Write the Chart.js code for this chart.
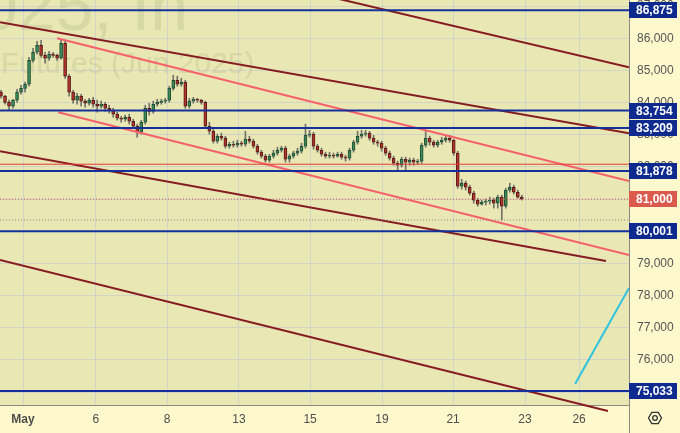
<!DOCTYPE html>
<html>
<head>
<meta charset="utf-8">
<script src="https://cdn.jsdelivr.net/npm/chart.js@4.4.1/dist/chart.umd.min.js"></script>
<style>
    html, body { margin: 0; padding: 0; background: #fdf9cc; }
    #wrap { width: 680px; height: 433px; }
</style>
</head>
<body>
<div id="wrap"><canvas id="priceChart" width="680" height="433"></canvas></div>
<script>
// x axis labels and where they sit (in bar index units)
const dayLabels = ['May', '6', '8', '13', '15', '19', '21', '23', '26'];
const dayTicks = [5.5, 23.7, 41.45, 59.4, 77.15, 95.1, 112.85, 130.8, 144.3];
const priceTicks = [75000, 76000, 77000, 78000, 79000, 80000, 81000, 82000, 83000, 84000, 85000, 86000, 87000];

// [open, high, low, close]
const candles = [
    [84325, 84385, 84135, 84200], [84200, 84230, 83950, 84010], [84010, 84075, 83765, 83890], [83890, 84105, 83825, 84075],
    [84075, 84415, 84010, 84325], [84325, 84540, 84260, 84445], [84445, 84635, 84325, 84570], [84570, 85410, 84510, 85315],
    [85315, 85690, 85255, 85565], [85565, 85905, 85505, 85780], [85780, 85940, 85410, 85470], [85470, 85565, 85225, 85380],
    [85380, 85595, 85315, 85505], [85505, 85565, 85410, 85470], [85470, 85505, 85315, 85380], [85380, 85940, 85350, 85845],
    [85845, 85905, 84755, 84820], [84820, 84880, 84200, 84325], [84325, 84385, 83980, 84075], [84075, 84290, 83950, 84200],
    [84200, 84260, 83890, 84045], [84045, 84105, 83855, 83980], [83980, 84135, 83920, 84075], [84075, 84165, 83855, 83950],
    [83950, 84075, 83700, 83890], [83890, 84045, 83825, 83950], [83950, 84010, 83730, 83825], [83825, 83920, 83670, 83765],
    [83765, 83825, 83545, 83640], [83640, 83700, 83455, 83515], [83515, 83575, 83390, 83485], [83485, 83610, 83420, 83545],
    [83545, 83640, 83330, 83420], [83420, 83485, 83205, 83265], [83265, 83330, 82925, 83080], [83080, 83455, 83020, 83390],
    [83390, 83920, 83330, 83825], [83825, 83980, 83610, 83730], [83730, 84045, 83670, 83950], [83950, 84105, 83890, 84010],
    [84010, 84105, 83950, 84045], [84045, 84135, 83980, 84075], [84075, 84510, 84010, 84445], [84445, 84850, 84385, 84695],
    [84695, 84820, 84510, 84570], [84570, 84755, 84510, 84635], [84635, 84695, 83825, 83890], [83890, 84135, 83825, 84045],
    [84045, 84165, 83980, 84105], [84105, 84135, 84010, 84075], [84075, 84105, 83950, 84010], [84010, 84045, 83205, 83265],
    [83265, 83390, 83020, 83110], [83110, 83175, 82740, 82800], [82800, 83020, 82740, 82955], [82955, 83050, 82830, 82895],
    [82895, 82955, 82585, 82645], [82645, 82770, 82585, 82705], [82705, 82800, 82615, 82675], [82675, 82830, 82615, 82740],
    [82740, 82800, 82645, 82705], [82705, 83110, 82645, 82865], [82865, 82955, 82740, 82800], [82800, 82865, 82585, 82645],
    [82645, 82705, 82395, 82460], [82460, 82520, 82275, 82335], [82335, 82395, 82150, 82210], [82210, 82395, 82150, 82335],
    [82335, 82520, 82275, 82430], [82430, 82615, 82365, 82520], [82520, 82645, 82460, 82585], [82585, 82645, 82150, 82240],
    [82240, 82395, 82150, 82335], [82335, 82490, 82275, 82430], [82430, 82585, 82365, 82490], [82490, 82740, 82430, 82645],
    [82645, 83330, 82585, 82985], [82985, 83140, 82925, 83020], [83020, 83080, 82550, 82645], [82645, 82705, 82460, 82520],
    [82520, 82585, 82335, 82395], [82395, 82460, 82275, 82335], [82335, 82460, 82275, 82365], [82365, 82430, 82275, 82335],
    [82335, 82460, 82305, 82395], [82395, 82460, 82240, 82305], [82305, 82365, 82180, 82275], [82275, 82585, 82210, 82520],
    [82520, 82830, 82460, 82770], [82770, 83110, 82705, 82955], [82955, 83140, 82895, 83020], [83020, 83140, 82955, 83050],
    [83050, 83110, 82830, 82895], [82895, 82985, 82705, 82770], [82770, 82830, 82645, 82740], [82740, 82800, 82490, 82585],
    [82585, 82645, 82365, 82430], [82430, 82490, 82210, 82275], [82275, 82335, 82055, 82115], [82115, 82180, 81900, 82055],
    [82055, 82305, 81995, 82240], [82240, 82305, 81900, 82150], [82150, 82275, 82055, 82210], [82210, 82275, 82055, 82150],
    [82150, 82240, 82085, 82180], [82180, 82740, 82115, 82675], [82675, 83140, 82615, 82895], [82895, 82955, 82675, 82770],
    [82770, 82830, 82615, 82675], [82675, 82830, 82615, 82770], [82770, 82925, 82705, 82830], [82830, 82955, 82770, 82895],
    [82895, 82985, 82770, 82830], [82830, 82865, 82365, 82430], [82430, 82490, 81340, 81405], [81405, 81620, 81310, 81495],
    [81495, 81560, 81280, 81370], [81370, 81435, 81125, 81185], [81185, 81250, 80875, 80970], [80970, 81030, 80780, 80845],
    [80845, 80970, 80815, 80905], [80905, 81000, 80815, 80935], [80935, 81060, 80845, 80970], [80970, 81030, 80720, 80875],
    [80875, 81125, 80720, 81060], [81060, 81125, 80350, 80780], [80780, 81340, 80720, 81280], [81280, 81495, 81215, 81370],
    [81370, 81435, 81155, 81215], [81215, 81280, 81030, 81060], [81060, 81125, 80970, 81000]
];

const levels = [86875, 83754, 83209, 81878, 80001, 75033];
const redLevel = 82085;
const lastPrice = 81000;
const sessionLow = 80350;

// trend lines: [[index, price], [index, price]]
const maroonLines = [
    [[80, 87350], [156.75, 85100]],
    [[-0.25, 86495], [156.75, 83050]],
    [[-0.25, 82490], [151, 79075]]
];
const maroonLow = [[-0.25, 79105], [151.5, 74415]];
const pinkLines = [
    [[14, 86000], [156.75, 81560]],
    [[14.25, 83700], [156.75, 79260]]
];
const cyanLine = [[143.3, 75255], [156.75, 78235]];

const xMin = -0.25, xMax = 156.75;
const fontFamily = '"Liberation Sans", Arial, sans-serif';

const upColor = '#3b8a58', downColor = '#b5352b';
const isUp = (i) => candles[i][3] >= candles[i][0];

function segment(pts, color, width, extra) {
    return Object.assign({
        type: 'line',
        data: pts.map(p => ({ x: p[0], y: p[1] })),
        borderColor: color,
        borderWidth: width,
        pointRadius: 0,
        fill: false,
        clip: 0
    }, extra || {});
}

const lineSets = [];
levels.forEach(v => lineSets.push(segment([[xMin, v], [xMax, v]], '#14309a', 2)));
lineSets.push(segment([[xMin, redLevel], [xMax, redLevel]], '#e53935', 1));
lineSets.push(segment([[xMin, lastPrice], [xMax, lastPrice]], '#d9584b', 1, { borderDash: [1, 2] }));
lineSets.push(segment([[xMin, sessionLow], [xMax, sessionLow]], '#8a8a80', 1, { borderDash: [1, 2] }));
maroonLines.forEach(l => lineSets.push(segment(l, '#861c22', 2)));
lineSets.push(segment(maroonLow, '#861c22', 2, { clip: false }));
pinkLines.forEach(l => lineSets.push(segment(l, '#f5606a', 2)));
lineSets.push(segment(cyanLine, '#2fc3e0', 2));

const decor = {
    id: 'decor',
    beforeDraw(chart) {
        const { ctx, chartArea: a, width, height } = chart;
        ctx.save();
        ctx.fillStyle = '#fdf9cc';
        ctx.fillRect(0, 0, width, height);
        ctx.fillStyle = '#e9e8b4';
        ctx.fillRect(a.left, a.top, a.right - a.left, a.bottom - a.top);
        ctx.fillStyle = 'rgba(110, 105, 60, 0.13)';
        ctx.textBaseline = 'alphabetic';
        ctx.textAlign = 'left';
        ctx.font = '68px ' + fontFamily;
        ctx.fillText('025, In', -20, 30);
        ctx.font = '30px ' + fontFamily;
        ctx.fillText('Futures (Jun 2025)', 1, 73);
        ctx.restore();
    },
    afterDraw(chart) {
        const { ctx, chartArea: a, height } = chart;
        const y = chart.scales.y;
        ctx.save();
        ctx.font = 'bold 12px ' + fontFamily;
        ctx.textBaseline = 'middle';
        ctx.textAlign = 'left';
        const badge = (v, bg) => {
            const py = Math.round(y.getPixelForValue(v));
            ctx.fillStyle = bg;
            ctx.fillRect(a.right, py - 8, 48, 16);
            ctx.fillStyle = '#ffffff';
            ctx.fillText(v.toLocaleString('en-US'), a.right + 7, py + 1);
        };
        levels.forEach(v => badge(v, '#0e2a8e'));
        badge(lastPrice, '#dc5a4d');

        // separator under the price axis
        ctx.strokeStyle = '#8a8a80';
        ctx.lineWidth = 1;
        ctx.beginPath();
        ctx.moveTo(a.right + 0.5, a.bottom);
        ctx.lineTo(a.right + 0.5, height);
        ctx.stroke();

        // settings gear
        const gx = 655, gy = 418;
        ctx.strokeStyle = '#333333';
        ctx.lineWidth = 1.3;
        ctx.beginPath();
        for (let k = 0; k < 6; k++) {
            const ang = Math.PI / 3 * k;
            const px = gx + 6.5 * Math.cos(ang), py = gy + 6.5 * Math.sin(ang);
            if (k === 0) ctx.moveTo(px, py); else ctx.lineTo(px, py);
        }
        ctx.closePath();
        ctx.stroke();
        ctx.beginPath();
        ctx.arc(gx, gy, 2.3, 0, Math.PI * 2);
        ctx.stroke();
        ctx.restore();
    }
};

const ctx = document.getElementById('priceChart');
new Chart(ctx, {
    type: 'bar',
    data: {
        datasets: [
            ...lineSets,
            {
                data: candles.map((c, i) => ({ x: i, y: [c[0], c[3]] })),
                backgroundColor: (c) => isUp(c.dataIndex) ? upColor : downColor,
                borderColor: (c) => isUp(c.dataIndex) ? '#1f4d33' : '#561818',
                borderWidth: 1,
                borderSkipped: false,
                barThickness: 3,
                minBarLength: 1,
                grouped: false
            },
            {
                data: candles.map((c, i) => ({ x: i, y: [c[2], c[1]] })),
                backgroundColor: '#72726a',
                barThickness: 1,
                minBarLength: 1,
                grouped: false
            }
        ]
    },
    options: {
        responsive: false,
        animation: false,
        layout: { padding: 0 },
        plugins: {
            legend: { display: false },
            tooltip: { enabled: false }
        },
        scales: {
            x: {
                type: 'linear',
                min: xMin,
                max: xMax,
                offset: false,
                afterBuildTicks: (s) => { s.ticks = dayTicks.map(v => ({ value: v })); },
                afterFit: (s) => { s.height = 28; s.paddingLeft = 0; s.paddingRight = 0; },
                grid: { offset: false, color: 'rgba(195, 200, 205, 0.6)', drawTicks: false },
                border: { color: '#8a8a80' },
                ticks: {
                    autoSkip: false,
                    maxRotation: 0,
                    padding: 7,
                    color: '#4d4d4d',
                    font: (c) => ({ family: fontFamily, size: 12, weight: c.index === 0 ? 'bold' : 'normal' }),
                    callback: (v, i) => dayLabels[i]
                }
            },
            y: {
                type: 'linear',
                position: 'right',
                min: 74600,
                max: 87190,
                afterBuildTicks: (s) => { s.ticks = priceTicks.map(v => ({ value: v })); },
                afterFit: (s) => { s.width = 51; s.paddingTop = 0; s.paddingBottom = 0; },
                grid: { color: 'rgba(195, 200, 205, 0.6)', drawTicks: false },
                border: { color: '#8a8a80' },
                ticks: {
                    padding: 8,
                    color: '#555555',
                    font: { family: fontFamily, size: 12 },
                    callback: (v) => v.toLocaleString('en-US')
                }
            }
        }
    },
    plugins: [decor]
});
</script>
</body>
</html>
